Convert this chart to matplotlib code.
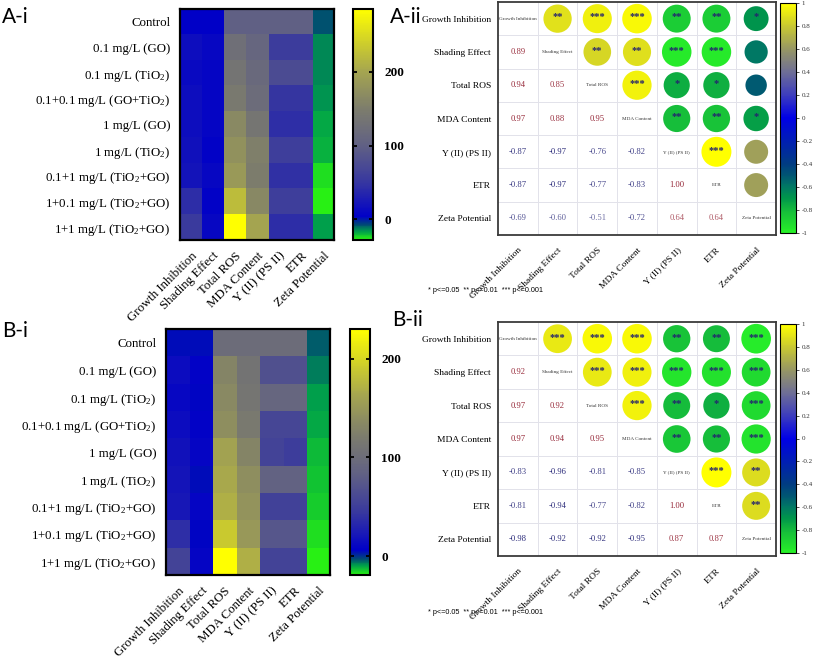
import numpy as np
import matplotlib
matplotlib.use('Agg')
import matplotlib.pyplot as plt
from matplotlib.colors import LinearSegmentedColormap, Normalize
from matplotlib.cm import ScalarMappable
from matplotlib.transforms import ScaledTranslation

plt.rcParams['font.family'] = ['Liberation Serif', 'DejaVu Serif']
plt.rcParams['mathtext.fontset'] = 'custom'
plt.rcParams['mathtext.rm'] = 'Liberation Serif'
plt.rcParams['mathtext.it'] = 'Liberation Serif:italic'
plt.rcParams['mathtext.bf'] = 'Liberation Serif:bold'

# ---------------- data ----------------
treatments = ['Control', '0.1 mg/L (GO)', '0.1 mg/L (TiO$_2$)', '0.1+0.1 mg/L (GO+TiO$_2$)',
              '1 mg/L (GO)', '1 mg/L (TiO$_2$)', '0.1+1 mg/L (TiO$_2$+GO)',
              '1+0.1 mg/L (TiO$_2$+GO)', '1+1 mg/L (TiO$_2$+GO)']
variables = ['Growth Inhibition', 'Shading Effect', 'Total ROS', 'MDA Content',
             'Y (II) (PS II)', 'ETR', 'Zeta Potential']

# Panel A-i heatmap values (per variable, rows = treatments)
A_growth = [5, 15, 12, 15, 15, 18, 20, 42, 55]
A_shading = [5, 10, 8, 8, 8, 6, 10, 6, 10]
A_ros = [100, 125, 135, 144, 166, 175, 185, 222, 285]
A_mda = [100, 110, 116, 120, 138, 153, 150, 165, 200]
A_yield = [100, 57, 75, 50, 44, 60, 45, 60, 42]
A_etr = [100, 57, 75, 50, 44, 60, 45, 60, 42]
A_zeta = [-8, -14, -14, -15, -17, -19, -25, -28, -16]

# Panel B-i heatmap values
B_growth = [5, 15, 12, 15, 18, 20, 22, 38, 55]
B_shading = [5, 8, 6, 8, 10, 5, 10, 6, 10]
B_ros = [100, 130, 135, 140, 160, 165, 170, 190, 230]
B_mda = [100, 110, 112, 118, 130, 140, 145, 150, 170]
B_yield = [100, 68, 90, 58, 55, 86, 53, 73, 55]
B_etr = [100, 68, 90, 58, 50, 86, 53, 73, 55]
B_zeta = [-4, -7, -10, -11, -13, -14, -15, -17, -19]

heat_ticks = [0, 100, 200]

# Correlations (lower triangle rows)
A_r_shading = [0.89]
A_r_ros = [0.94, 0.85]
A_r_mda = [0.97, 0.88, 0.95]
A_r_yield = [-0.87, -0.97, -0.76, -0.82]
A_r_etr = [-0.87, -0.97, -0.77, -0.83, 1.00]
A_r_zeta = [-0.69, -0.60, -0.51, -0.72, 0.64, 0.64]

B_r_shading = [0.92]
B_r_ros = [0.97, 0.92]
B_r_mda = [0.97, 0.94, 0.95]
B_r_yield = [-0.83, -0.96, -0.81, -0.85]
B_r_etr = [-0.81, -0.94, -0.77, -0.82, 1.00]
B_r_zeta = [-0.98, -0.92, -0.92, -0.95, 0.87, 0.87]

# Significance stars (upper triangle rows)
A_sig_growth = ['**', '***', '***', '**', '**', '*']
A_sig_shading = ['**', '**', '***', '***', '']
A_sig_ros = ['***', '*', '*', '']
A_sig_mda = ['**', '**', '*']
A_sig_yield = ['***', '']
A_sig_etr = ['']

B_sig_growth = ['***', '***', '***', '**', '**', '***']
B_sig_shading = ['***', '***', '***', '***', '***']
B_sig_ros = ['***', '**', '*', '***']
B_sig_mda = ['**', '**', '***']
B_sig_yield = ['***', '**']
B_sig_etr = ['**']

corr_ticks = [1, 0.8, 0.6, 0.4, 0.2, 0, -0.2, -0.4, -0.6, -0.8, -1]

# ---------------- colormaps ----------------
def rgb(r, g, b):
    return (r / 255, g / 255, b / 255)

heat_cmap = LinearSegmentedColormap.from_list('heat', [
    (0.00, rgb(40, 240, 20)),
    (0.035, rgb(0, 160, 75)),
    (0.065, rgb(0, 75, 115)),
    (0.10, rgb(0, 0, 200)),
    (0.25, rgb(55, 55, 160)),
    (0.41, rgb(97, 97, 132)),
    (0.57, rgb(125, 125, 108)),
    (0.73, rgb(165, 165, 80)),
    (1.00, rgb(255, 255, 0))])

corr_cmap = LinearSegmentedColormap.from_list('corr', [
    (0.00, rgb(40, 240, 40)),
    (0.10, rgb(20, 185, 60)),
    (0.15, rgb(0, 150, 75)),
    (0.20, rgb(0, 120, 100)),
    (0.25, rgb(0, 85, 115)),
    (0.30, rgb(0, 60, 130)),
    (0.40, rgb(0, 30, 180)),
    (0.50, rgb(0, 0, 230)),
    (0.60, rgb(60, 60, 190)),
    (0.70, rgb(110, 110, 150)),
    (0.80, rgb(150, 150, 100)),
    (0.90, rgb(200, 200, 50)),
    (1.00, rgb(255, 255, 0))])

W, H = 813, 663
fig = plt.figure(figsize=(W / 100, H / 100), dpi=100)


def fax(x0, y0, x1, y1):
    return fig.add_axes([x0 / W, 1 - y1 / H, (x1 - x0) / W, (y1 - y0) / H])


def heatmap(box, cbox, cols):
    ax = fax(*box)
    cax = fax(*cbox)
    data = np.array(cols).T
    vmin, vmax = data.min(), data.max()
    ax.imshow(data, cmap=heat_cmap, vmin=vmin, vmax=vmax, aspect='auto',
              interpolation='nearest')
    ax.set_yticks(range(len(treatments)))
    ax.set_yticklabels(treatments, fontsize=9.3)
    ax.set_xticks(range(len(variables)))
    ax.set_xticklabels(variables, fontsize=9.3, rotation=45, ha='right',
                       va='top', rotation_mode='anchor')
    for lab in ax.get_xticklabels():
        lab.set_transform(lab.get_transform() + ScaledTranslation(3 / 100, 0, fig.dpi_scale_trans))
    ax.tick_params(length=0, pad=7)
    for s in ax.spines.values():
        s.set_linewidth(1.6)
    sm = ScalarMappable(norm=Normalize(vmin, vmax), cmap=heat_cmap)
    cb = fig.colorbar(sm, cax=cax, ticks=heat_ticks)
    cb.outline.set_linewidth(1.5)
    cax.tick_params(axis='y', direction='in', length=3, width=1.3, left=True,
                    right=True, labelsize=9.5, pad=8)
    for lab in cax.get_yticklabels():
        lab.set_fontweight('bold')
    return ax


def corrplot(box, cbox, lower, sig):
    ax = fax(*box)
    cax = fax(*cbox)
    n = len(variables)
    R = np.eye(n)
    for i, row in enumerate(lower):
        for j, v in enumerate(row):
            R[i + 1, j] = v
            R[j, i + 1] = v
    ax.set_xlim(0, n)
    ax.set_ylim(n, 0)
    for k in range(1, n):
        ax.axhline(k, color='#e2e2ea', lw=0.7, zorder=0)
        ax.axvline(k, color='#e2e2ea', lw=0.7, zorder=0)
    xs, ys, cs = [], [], []
    for i in range(n):
        for j in range(i + 1, n):
            xs.append(j + 0.5)
            ys.append(i + 0.5)
            cs.append(R[i, j])
    cs = np.array(cs)
    ax.scatter(xs, ys, c=cs, s=np.abs(cs) * 466, cmap=corr_cmap, vmin=-1, vmax=1,
               edgecolors='none', zorder=2)
    for i in range(n):
        for j in range(i + 1, n):
            st = sig[i][j - i - 1]
            if st:
                ax.text(j + 0.5, i + 0.45, st, ha='center', va='center', fontsize=7.5,
                        color='#23236e', fontweight='bold', zorder=3)
    for i in range(n):
        for j in range(i):
            r = R[i, j]
            col = '#962838' if r > 0 else '#2b2b7a'
            ax.text(j + 0.5, i + 0.5, f'{r:.2f}', ha='center', va='center',
                    fontsize=6.2, color=col, alpha=min(1, 0.3 + 0.72 * abs(r)))
        ax.text(i + 0.5, i + 0.5, variables[i], ha='center', va='center',
                fontsize=3.7, color='#333333')
    ax.set_yticks(np.arange(n) + 0.5)
    ax.set_yticklabels(variables, fontsize=6.8)
    ax.set_xticks(np.arange(n) + 0.5)
    ax.set_xticklabels(variables, fontsize=6.8, rotation=45, ha='right', va='top',
                       rotation_mode='anchor')
    for lab in ax.get_xticklabels():
        lab.set_transform(lab.get_transform() + ScaledTranslation(8 / 100, 0, fig.dpi_scale_trans))
    ax.tick_params(length=0, pad=5)
    ax.tick_params(axis='x', pad=8)
    for s in ax.spines.values():
        s.set_linewidth(1.3)
        s.set_color('#3a3a3a')
    sm = ScalarMappable(norm=Normalize(-1, 1), cmap=corr_cmap)
    cb = fig.colorbar(sm, cax=cax, ticks=corr_ticks)
    cb.set_ticklabels([f'{t:g}' for t in corr_ticks])
    cb.outline.set_linewidth(0.8)
    cax.tick_params(axis='y', direction='out', length=2.5, width=0.6,
                    labelsize=5, pad=1.5, colors='#333333')
    return ax


heatmap((180, 9, 334, 240), (353, 9, 373, 240),
        [A_growth, A_shading, A_ros, A_mda, A_yield, A_etr, A_zeta])
heatmap((166, 329, 330, 575), (350, 329, 370, 575),
        [B_growth, B_shading, B_ros, B_mda, B_yield, B_etr, B_zeta])

corrplot((498, 2, 776, 235), (780, 3, 796, 233),
         [A_r_shading, A_r_ros, A_r_mda, A_r_yield, A_r_etr, A_r_zeta],
         [A_sig_growth, A_sig_shading, A_sig_ros, A_sig_mda, A_sig_yield, A_sig_etr])
corrplot((498, 322, 776, 556), (780, 324, 796, 553),
         [B_r_shading, B_r_ros, B_r_mda, B_r_yield, B_r_etr, B_r_zeta],
         [B_sig_growth, B_sig_shading, B_sig_ros, B_sig_mda, B_sig_yield, B_sig_etr])

note = '* p<=0.05  ** p<=0.01  *** p<=0.001'
fig.text(428 / W, 1 - 291 / H, note, fontsize=5.2, family='Liberation Sans', va='center')
fig.text(428 / W, 1 - 612 / H, note, fontsize=5.2, family='Liberation Sans', va='center')

for lbl, x, y in [('A-i', 2, 17), ('A-ii', 390, 17), ('B-i', 2, 331), ('B-ii', 392, 320)]:
    fig.text(x / W, 1 - y / H, lbl, fontsize=15, family='Lato', va='center', ha='left')

fig.savefig('out.png', dpi=100)
